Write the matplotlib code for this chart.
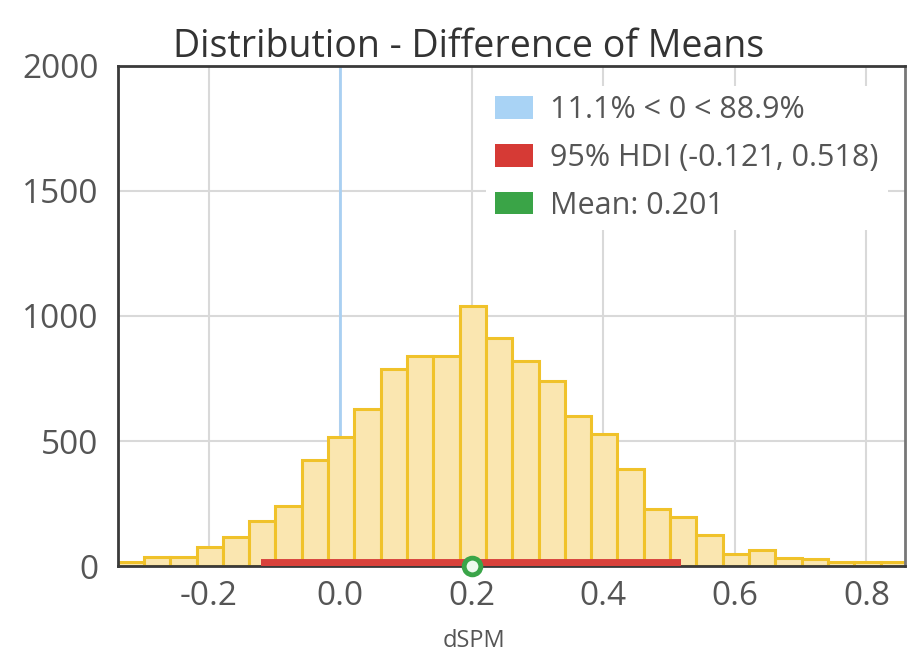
import numpy as np
import matplotlib
matplotlib.use('Agg')
import matplotlib.pyplot as plt
from matplotlib.patches import Patch

plt.rcParams['font.family'] = ['Open Sans', 'DejaVu Sans']

# histogram of the posterior difference (left bin edges, width, counts)
bin_left = [-0.3385, -0.2985, -0.2585, -0.2185, -0.1785, -0.1385, -0.0985,
            -0.0585, -0.0185, 0.0215, 0.0615, 0.1015, 0.1415, 0.1815,
            0.2215, 0.2615, 0.3015, 0.3415, 0.3815, 0.4215, 0.4615,
            0.5015, 0.5415, 0.5815, 0.6215, 0.6615, 0.7015, 0.7415,
            0.7815, 0.8215]
bin_width = 0.04
counts = [17, 35, 38, 78, 115, 180, 240, 425, 515, 628, 788, 842, 840, 1040,
          910, 820, 742, 600, 528, 390, 228, 195, 124, 50, 63, 33, 28, 18,
          16, 15]

hdi = (-0.121, 0.518)
mean_val = 0.201
ref_val = 0.0
pct_below, pct_above = 11.1, 88.9

xticks = [-0.2, 0.0, 0.2, 0.4, 0.6, 0.8]
yticks = [0, 500, 1000, 1500, 2000]

fig = plt.figure(figsize=(9.07, 6.59), dpi=100)
ax = fig.add_axes([0.130, 0.141, 0.868, 0.759])

ax.bar(bin_left, counts, width=bin_width, align='edge',
       facecolor='#fae6b0', edgecolor='#f0c22a', linewidth=2.2, zorder=2)

ax.axvline(ref_val, color='#a9d0f2', lw=2, zorder=1.5)
ax.plot(hdi, [0, 0], color='#d8413b', lw=10, solid_capstyle='butt', zorder=3)
ax.plot([mean_val], [0], marker='o', ms=12, mfc='#eefaee', mec='#3aa548',
        mew=3.5, zorder=4, clip_on=False)

ax.set_xlim(-0.338, 0.859)
ax.set_ylim(0, 2000)
ax.set_xticks(xticks)
ax.set_xticklabels(['%.1f' % t for t in xticks])
ax.set_yticks(yticks)
ax.tick_params(length=0, labelsize=24, labelcolor='#555555')
ax.tick_params(axis='y', pad=14)
ax.tick_params(axis='x', pad=10)
ax.grid(True, color='#d9d9d9', lw=1.5, zorder=0)
ax.set_axisbelow(True)
for s in ax.spines.values():
    s.set_color('#3a3a3a')
    s.set_linewidth(2)
ax.spines['right'].set_color('#777777')

ax.set_title('Distribution - Difference of Means', fontsize=27, color='#333333',
             pad=6, x=0.446)
ax.set_xlabel('dSPM', fontsize=17, color='#555555')
ax.xaxis.set_label_coords(0.452, -0.125)

handles = [Patch(facecolor='#a9d3f5', edgecolor='none'),
           Patch(facecolor='#d63a35', edgecolor='none'),
           Patch(facecolor='#3aa447', edgecolor='none')]
labels = ['%.1f%% < %g < %.1f%%' % (pct_below, ref_val, pct_above),
          '95%% HDI (%.3f, %.3f)' % hdi,
          'Mean: %.3f' % mean_val]
leg = ax.legend(handles, labels, loc='upper right', bbox_to_anchor=(0.997, 0.99),
                fontsize=22, frameon=True, facecolor='white', edgecolor='none',
                framealpha=1, handlelength=1.25, handleheight=0.75,
                handletextpad=0.55, labelspacing=0.58, borderpad=0.3)
for t in leg.get_texts():
    t.set_color('#555555')

fig.savefig('out.png', dpi=100)
